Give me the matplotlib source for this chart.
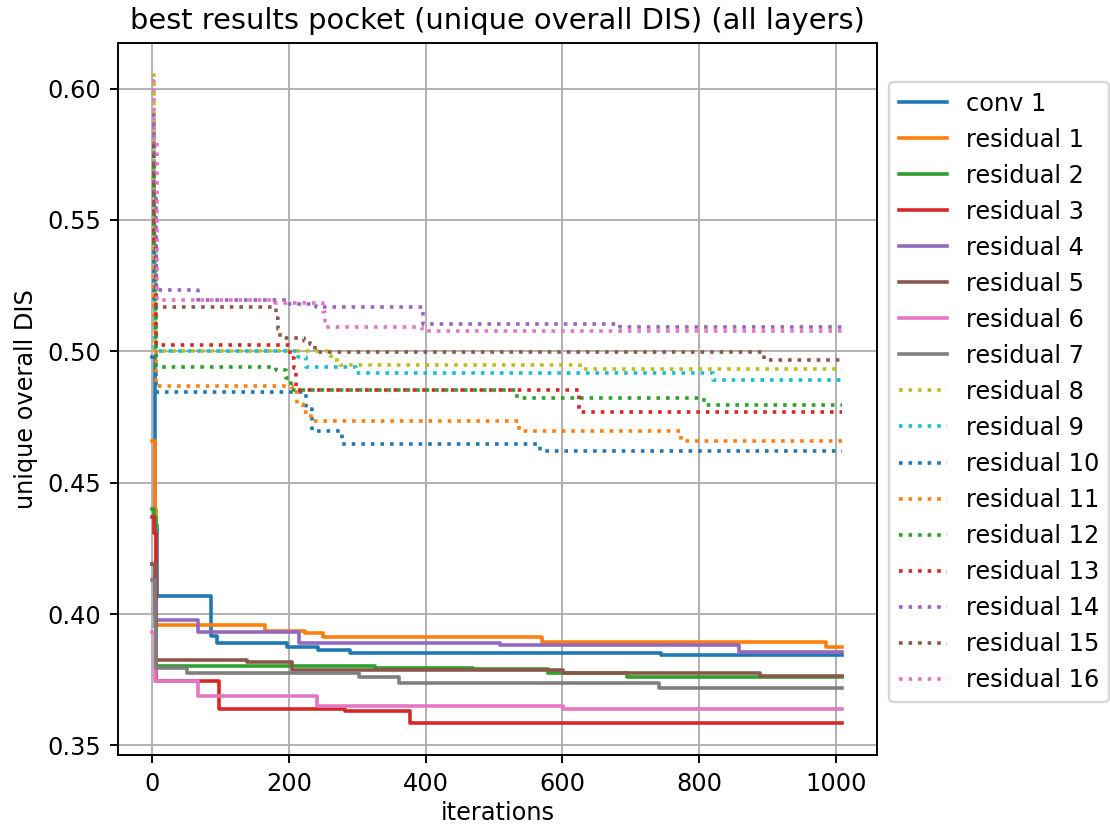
import matplotlib
matplotlib.use("Agg")
import matplotlib.pyplot as plt

# ---- data: change points (iteration) and pocket values ----
LAST_ITER = 1010

labels = ["conv 1"] + ["residual %d" % i for i in range(1, 17)]

conv1_it = [0, 3, 6, 86, 94, 197, 243, 289, 745]
conv1_v = [0.498, 0.434, 0.407, 0.3916, 0.3889, 0.3873, 0.3865, 0.3851, 0.3846]

res1_it = [0, 3, 5, 165, 224, 250, 570, 986]
res1_v = [0.466, 0.440, 0.3958, 0.3937, 0.3927, 0.3911, 0.3895, 0.3876]

res2_it = [0, 2, 5, 326, 469, 579, 694]
res2_v = [0.440, 0.437, 0.3801, 0.3796, 0.3791, 0.3775, 0.3762]

res3_it = [0, 2, 5, 98, 282, 377]
res3_v = [0.437, 0.431, 0.3746, 0.3637, 0.3633, 0.3587]

res4_it = [0, 3, 5, 66, 214, 509, 858]
res4_v = [0.419, 0.405, 0.3979, 0.3931, 0.3889, 0.3884, 0.3856]

res5_it = [0, 3, 5, 139, 204, 601, 889]
res5_v = [0.419, 0.400, 0.3826, 0.3816, 0.3786, 0.3775, 0.3765]

res6_it = [0, 4, 66, 241, 601]
res6_v = [0.393, 0.3746, 0.3688, 0.3650, 0.3637]

res7_it = [0, 3, 5, 50, 303, 361, 741]
res7_v = [0.413, 0.395, 0.3796, 0.3775, 0.3762, 0.3738, 0.3719]

res8_it = [0, 2, 4, 262, 275, 626]
res8_v = [0.605, 0.560, 0.5000, 0.4968, 0.4946, 0.4934]

res9_it = [0, 2, 4, 213, 225, 298, 820]
res9_v = [0.570, 0.530, 0.5000, 0.4980, 0.4939, 0.4918, 0.4890]

res10_it = [0, 2, 5, 225, 233, 277, 568]
res10_v = [0.585, 0.520, 0.4844, 0.4780, 0.4695, 0.4647, 0.4620]

res11_it = [0, 2, 5, 204, 212, 220, 232, 537, 774]
res11_v = [0.550, 0.510, 0.4867, 0.4845, 0.4800, 0.4770, 0.4734, 0.4697, 0.4658]

res12_it = [0, 2, 5, 181, 196, 203, 533, 808]
res12_v = [0.570, 0.540, 0.4942, 0.4930, 0.4898, 0.4853, 0.4821, 0.4795]

res13_it = [0, 2, 5, 201, 207, 210, 625]
res13_v = [0.575, 0.540, 0.5023, 0.4974, 0.4936, 0.4853, 0.4770]

res14_it = [0, 2, 5, 67, 195, 240, 396, 684]
res14_v = [0.590, 0.560, 0.5233, 0.5195, 0.5180, 0.5169, 0.5105, 0.5093]

res15_it = [0, 2, 5, 181, 184, 187, 222, 230, 238, 895]
res15_v = [0.578, 0.545, 0.5169, 0.5125, 0.5085, 0.5051, 0.5038, 0.5026, 0.4997, 0.4968]

res16_it = [0, 2, 6, 180, 250, 253, 395]
res16_v = [0.603, 0.580, 0.5195, 0.5185, 0.5150, 0.5092, 0.5077]

series_it = [conv1_it, res1_it, res2_it, res3_it, res4_it, res5_it, res6_it, res7_it,
             res8_it, res9_it, res10_it, res11_it, res12_it, res13_it, res14_it,
             res15_it, res16_it]
series_v = [conv1_v, res1_v, res2_v, res3_v, res4_v, res5_v, res6_v, res7_v,
            res8_v, res9_v, res10_v, res11_v, res12_v, res13_v, res14_v,
            res15_v, res16_v]

colors = ["C0", "C1", "C2", "C3", "C4", "C5", "C6", "C7", "C8", "C9",
          "C0", "C1", "C2", "C3", "C4", "C5", "C6"]
styles = ["-"] * 8 + [":"] * 9

DPI = 173
fig = plt.figure(figsize=(1110 / DPI, 827 / DPI), dpi=DPI)
ax = fig.add_axes([0.1063, 0.0871, 0.790 - 0.1063, 0.948 - 0.0871])

for lab, it, v, c, ls in zip(labels, series_it, series_v, colors, styles):
    xs = list(it) + [LAST_ITER]
    ys = list(v) + [v[-1]]
    ax.step(xs, ys, where="post", color=c, linestyle=ls, linewidth=1.5, label=lab)

ax.set_yticks([0.35, 0.40, 0.45, 0.50, 0.55, 0.60])
ax.set_xticks([0, 200, 400, 600, 800, 1000])
ax.grid(True)
ax.set_title("best results pocket (unique overall DIS) (all layers)")
ax.set_xlabel("iterations", labelpad=2)
ax.set_ylabel("unique overall DIS")
ax.legend(loc="upper left", bbox_to_anchor=(1.016, 0.945), borderaxespad=0)

fig.savefig("out.png", dpi=DPI)
